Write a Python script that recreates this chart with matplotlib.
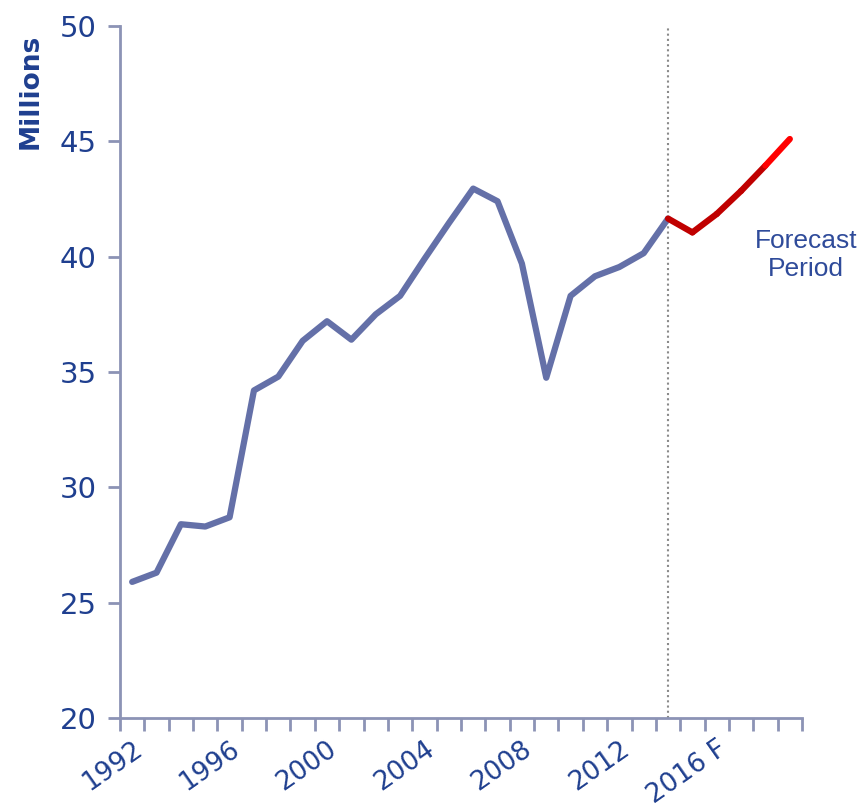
import matplotlib.pyplot as plt
import numpy as np

# history and forecast, millions
years = list(range(1992, 2015))
values = [25.9, 26.3, 28.4, 28.3, 28.7, 34.2, 34.8, 36.35, 37.2, 36.4,
          37.5, 38.3, 39.9, 41.45, 42.95, 42.4, 39.7, 34.75, 38.3, 39.15,
          39.55, 40.15, 41.65]
fc_years = [2014, 2015, 2016, 2017, 2018, 2019]
fc_values = [41.65, 41.05, 41.85, 42.85, 43.95, 45.1]
fc_colors = ['#c00000', '#c00000', '#c00000', '#c00000', '#ff0000']

tick_years = [1992, 1996, 2000, 2004, 2008, 2012, 2016]
tick_labels = ['1992', '1996', '2000', '2004', '2008', '2012', '2016 F']

axis_col = '#8c93b5'
text_col = '#1f3f8f'

fig = plt.figure(figsize=(8.62, 8.09), dpi=100)
ax = fig.add_axes([0.1392, 0.1125, 0.7912, 0.8554])

ax.plot(years, values, color='#6470a8', lw=4.5, solid_capstyle='round',
        solid_joinstyle='round', zorder=3)
for i in range(len(fc_years) - 1):
    ax.plot(fc_years[i:i + 2], fc_values[i:i + 2], color=fc_colors[i], lw=4.5,
            solid_capstyle='round', solid_joinstyle='round', zorder=3)

ax.axvline(2014, color='#8a8a8a', lw=1.5, ls=(0, (1, 1.5)), zorder=2)

ax.set_xlim(1991.5, 2019.5)
ax.set_ylim(20, 50)
ax.set_yticks(np.arange(20, 51, 5))
ax.set_xticks(tick_years)
ax.set_xticklabels(tick_labels, rotation=35, ha='right', rotation_mode='anchor')
ax.set_xticks(np.arange(1991.5, 2020, 1), minor=True)
ax.tick_params(axis='x', which='major', length=0, pad=13, labelsize=19,
               labelcolor=text_col)
ax.tick_params(axis='x', which='minor', length=9, width=2, color=axis_col,
               direction='out')
ax.tick_params(axis='y', length=9, width=2, color=axis_col, labelsize=21,
               labelcolor=text_col, pad=8)

for s in ['top', 'right']:
    ax.spines[s].set_visible(False)
for s in ['left', 'bottom']:
    ax.spines[s].set_color(axis_col)
    ax.spines[s].set_linewidth(2)

ax.set_ylabel('Millions', fontsize=19, fontweight='bold', color=text_col)
ax.yaxis.set_label_coords(-0.112, 0.905)

ax.text(2019.66, 40.07, 'Forecast\nPeriod', fontsize=19, color='#2f4b9a',
        family='Liberation Sans', ha='center', va='center', linespacing=1.2)

fig.savefig('out.png', dpi=100)
